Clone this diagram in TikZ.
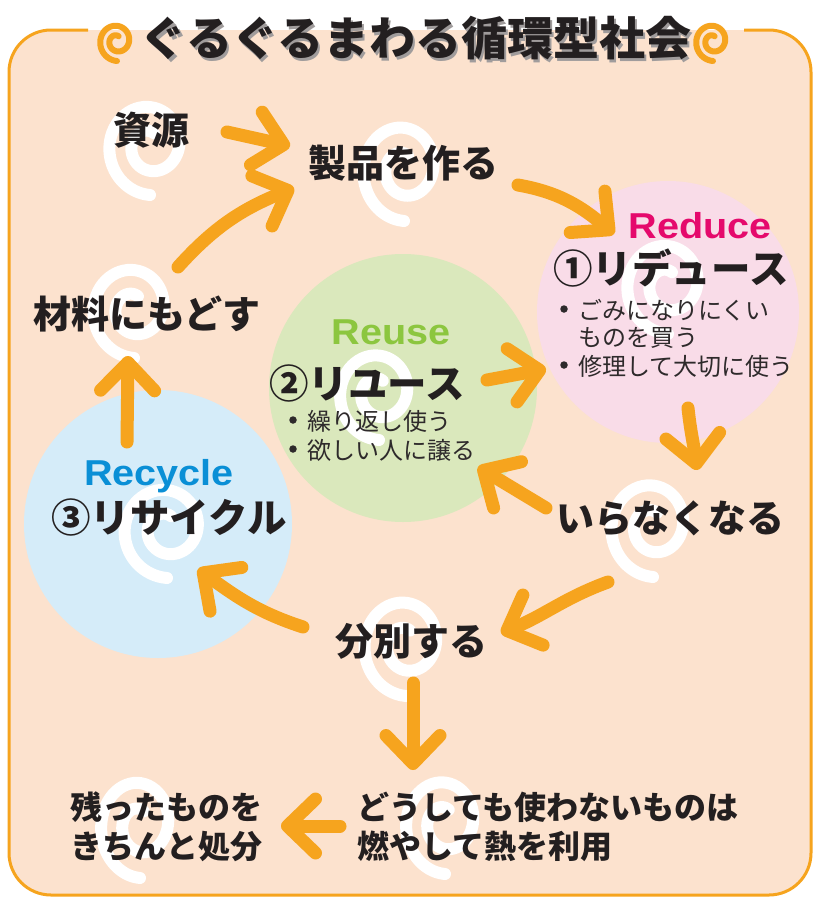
\documentclass[tikz,border=0pt]{standalone}
\usepackage{fontspec}
\newfontfamily\jp{Noto Sans CJK JP}
\newfontfamily\en[FakeStretch=1.1]{Liberation Sans}
\usetikzlibrary{arrows.meta}
\definecolor{peach}{HTML}{FCE2CE}
\definecolor{orng}{HTML}{F6A41E}
\definecolor{pinkc}{HTML}{F9DCE8}
\definecolor{greenc}{HTML}{DAE8BC}
\definecolor{bluec}{HTML}{D5ECF9}
\definecolor{ink}{HTML}{231F20}
\definecolor{ink2}{HTML}{2E2A2B}
\definecolor{magenta}{HTML}{E5096C}
\definecolor{reusegreen}{HTML}{8CC63F}
\definecolor{recycleblue}{HTML}{0A8FD6}
\definecolor{shadow}{HTML}{A09C9C}
\newcommand\myswirl[6]{%
  \draw[line width=#5, line cap=round, #6] plot[domain=90:650, samples=90, smooth, variable=\t]
    ({#1+#3*(1-0.75*(\t-90)/560)*cos(\t)}, {#2+#4*(1-0.75*(\t-90)/560)*sin(\t)});
}
\newcommand\shadowtext[1]{\rlap{\hspace{2.5pt}\raisebox{-3pt}{\color{shadow}#1}}#1}
\tikzset{
  arr/.style={draw=orng, line width=13pt, line cap=round,
    -{Straight Barb[length=28pt, width=54pt, round]}},
  big/.style={font=\jp\bfseries\fontsize{38}{44}\selectfont, text=ink, inner sep=0pt},
  mid/.style={font=\jp\bfseries\fontsize{32}{39}\selectfont, text=ink, inner sep=0pt, align=left, anchor=west},
  small/.style={font=\jp\fontsize{24}{28}\selectfont, text=ink2, inner sep=0pt, anchor=west},
  bul/.style={circle, fill=ink2, inner sep=0pt, minimum size=7.5pt},
  eng/.style={font=\en\bfseries\fontsize{36}{40}\selectfont, inner sep=0pt, anchor=base},
  ttl/.style={font=\jp\bfseries\fontsize{46}{50}\selectfont, inner sep=0pt}
}
\begin{document}
\begin{tikzpicture}[x=1pt,y=-1pt]
\useasboundingbox (0,0) rectangle (817,900);
\fill[white] (0,0) rectangle (817,900);
% panel
\fill[peach, rounded corners=42pt] (9,30) rectangle (811,895);
\draw[orng, line width=3pt, rounded corners=42pt] (88,30) -- (9,30) -- (9,895) -- (811,895) -- (811,30) -- (744,30);
% circles
\fill[pinkc] (668,312) circle[radius=131];
\fill[greenc] (403,388) circle[radius=134];
\fill[bluec] (158,524) circle[radius=134];
% white swirls
\myswirl{150}{145}{46}{50}{12pt}{white}
\myswirl{404}{168}{46}{53}{12pt}{white}
\myswirl{134}{308}{46}{50}{12pt}{white}
\myswirl{668}{284}{46}{50}{12pt}{white}
\myswirl{379}{392}{44}{48}{12pt}{white}
\myswirl{167}{528}{48}{50}{12pt}{white}
\myswirl{653}{525}{47}{52}{12pt}{white}
\myswirl{406}{643}{47}{53}{12pt}{white}
\myswirl{140}{824}{44}{54}{12pt}{white}
\myswirl{445}{822}{44}{52}{12pt}{white}
% title swirls
\myswirl{117}{41}{19}{20}{6pt}{orng}
\myswirl{713}{41}{19}{20}{6pt}{orng}
% arrow endpoints
\coordinate (a1s) at (227,132); \coordinate (a1e) at (290,146);
\coordinate (a2s) at (178,267); \coordinate (a2e) at (294,188);
\coordinate (a3s) at (518,185); \coordinate (a3e) at (614,234);
\coordinate (a4s) at (688,408); \coordinate (a4e) at (697,470);
\coordinate (a5s) at (608,582); \coordinate (a5e) at (501,633);
\coordinate (a6s) at (303,627); \coordinate (a6e) at (198,569);
\coordinate (a7s) at (127,442); \coordinate (a7e) at (128,356);
\coordinate (a8s) at (546,508); \coordinate (a8e) at (478,467);
\coordinate (a9s) at (487,380); \coordinate (a9e) at (546,369);
\coordinate (a10s) at (413,683); \coordinate (a10e) at (413,770);
\coordinate (a11s) at (340,826); \coordinate (a11e) at (281,826);
\draw[arr] (a1s) -- (a1e);
\draw[arr] (a2s) to[out=48,in=202] (a2e);
\draw[arr] (a3s) to[out=-10,in=140] (a3e);
\draw[arr] (a4s) to[out=-84,in=97] (a4e);
\draw[arr] (a5s) to[out=200,in=22] (a5e);
\draw[arr] (a6s) to[out=162,in=-36] (a6e);
\draw[arr] (a7s) -- (a7e);
\draw[arr] (a8s) -- (a8e);
\draw[arr] (a9s) -- (a9e);
\draw[arr] (a10s) -- (a10e);
\draw[arr] (a11s) -- (a11e);
% title
\node[ttl, text=ink] (title) at (416,40) {\shadowtext{ぐるぐるまわる循環型社会}};
% main labels
\node[big] (shigen) at (151,130) {資源};
\node[big] (seihin) at (403,163) {製品を作る};
\node[big] (zairyo) at (147,314) {材料にもどす};
\node[big] (iranaku) at (670,518) {いらなくなる};
\node[big] (bunbetsu) at (411,641) {分別する};
% reduce
\node[eng, text=magenta] (reduceen) at (700,238) {Reduce};
\node[big, font=\jp\bfseries\fontsize{39.5}{44}\selectfont] (reduce) at (671,268) {①リデュース};
\node[bul] (rd1) at (564,309) {};
\node[small] (rt1) at (578,310) {ごみになりにくい};
\node[small] (rt2) at (578,338) {ものを買う};
\node[bul] (rd2) at (564,365) {};
\node[small] (rt3) at (578,366) {修理して大切に使う};
% reuse
\node[eng, text=reusegreen] (reuseen) at (391,344) {Reuse};
\node[big, font=\jp\bfseries\fontsize{39.5}{44}\selectfont] (reuse) at (367,383) {②リユース};
\node[bul] (ud1) at (293,420) {};
\node[small] (ut1) at (307,421) {繰り返し使う};
\node[bul] (ud2) at (293,449) {};
\node[small] (ut2) at (307,450) {欲しい人に譲る};
% recycle
\node[eng, text=recycleblue] (recycleen) at (159,485) {Recycle};
\node[big, font=\jp\bfseries\fontsize{39.5}{44}\selectfont] (recycle) at (169,517) {③リサイクル};
% bottom
\node[mid] (nokori) at (70,827) {残ったものを\\きちんと処分};
\node[mid] (moyashite) at (357,827) {どうしても使わないものは\\燃やして熱を利用};
\end{tikzpicture}
\end{document}
